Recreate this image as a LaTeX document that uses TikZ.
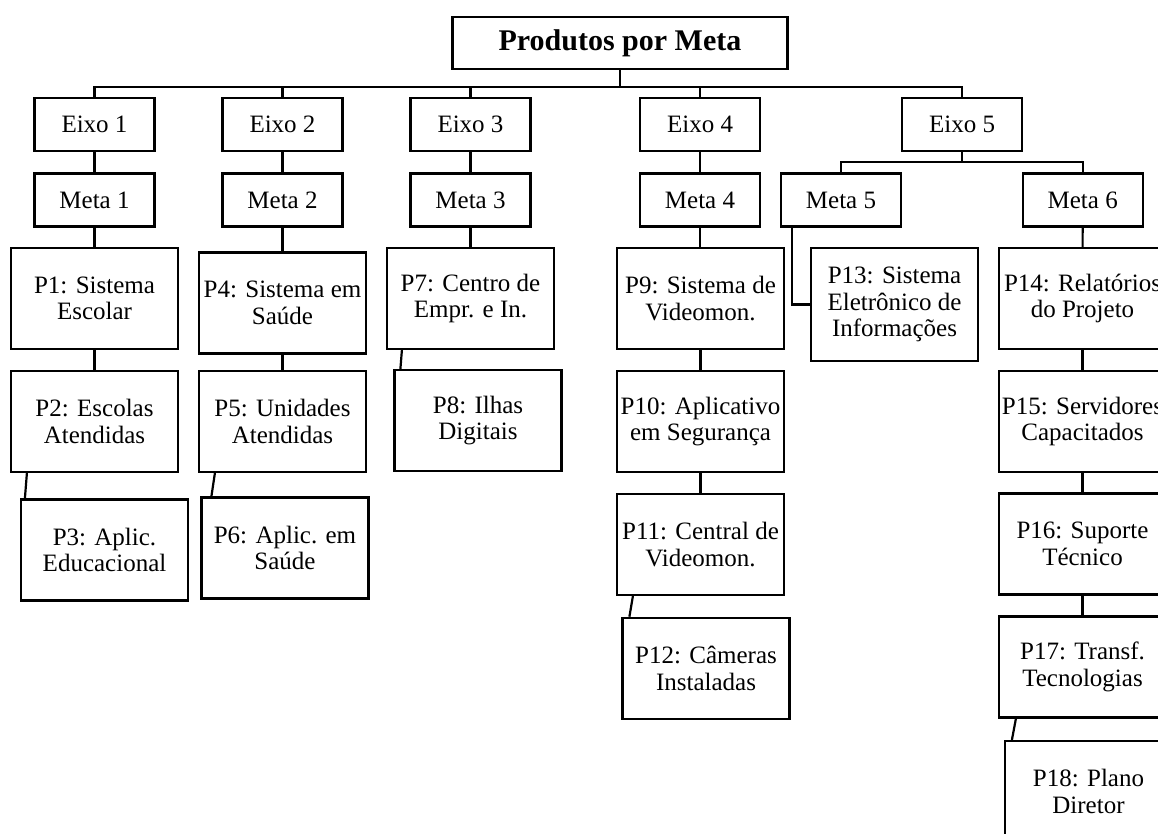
\documentclass[tikz,border=0pt]{standalone}
\usepackage{fontspec}
\setmainfont{Liberation Serif}
\begin{document}
\begin{tikzpicture}[x=1pt,y=-1pt,
  box/.style={draw, line width=2.2pt, inner sep=0pt, align=center, font=\fontsize{25}{26.5}\selectfont},
  titlebox/.style={box, minimum width=335pt, minimum height=52pt, font=\fontsize{30}{32}\selectfont\bfseries},
  smallbox/.style={box, minimum width=120pt, minimum height=53pt},
  prodbox/.style={box, minimum width=167pt, minimum height=101pt},
  conn/.style={line width=2.2pt}]
\clip (0,0) rectangle (1158,834);
\fill[white] (0,0) rectangle (1158,834);
% title
\node[titlebox] (t) at (620,43.3) {Produtos por Meta};
% eixos
\node[smallbox] (e1) at (94.5,124.5) {Eixo 1};
\node[smallbox] (e2) at (282.5,124.5) {Eixo 2};
\node[smallbox] (e3) at (470.5,124.5) {Eixo 3};
\node[smallbox] (e4) at (700,124.5) {Eixo 4};
\node[smallbox] (e5) at (962,124.5) {Eixo 5};
% metas
\node[smallbox] (m1) at (94.5,200) {Meta 1};
\node[smallbox] (m2) at (282.5,200) {Meta 2};
\node[smallbox] (m3) at (470.5,200) {Meta 3};
\node[smallbox] (m4) at (700,200) {Meta 4};
\node[smallbox] (m5) at (841,200) {Meta 5};
\node[smallbox] (m6) at (1082.7,200) {Meta 6};
% produtos
\node[prodbox] (p1) at (94.5,298.5) {P1: Sistema\\Escolar};
\node[prodbox] (p2) at (94.5,421.5) {P2: Escolas\\Atendidas};
\node[prodbox] (p3) at (104.5,550) {P3: Aplic.\\Educacional};
\node[prodbox] (p4) at (282.5,303) {P4: Sistema em\\Saúde};
\node[prodbox] (p5) at (282.5,421.5) {P5: Unidades\\Atendidas};
\node[prodbox] (p6) at (285,548) {P6: Aplic. em\\Saúde};
\node[prodbox] (p7) at (470.5,298.5) {P7: Centro de\\Empr. e In.};
\node[prodbox] (p8) at (478,420.5) {P8: Ilhas\\Digitais};
\node[prodbox] (p9) at (700.5,298.5) {P9: Sistema de\\Videomon.};
\node[prodbox] (p10) at (700.5,421.5) {P10: Aplicativo\\em Segurança};
\node[prodbox] (p11) at (700.5,544.5) {P11: Central de\\Videomon.};
\node[prodbox] (p12) at (706,668.3) {P12: Câmeras\\Instaladas};
\node[prodbox, minimum height=113pt] (p13) at (894.5,304.5) {P13: Sistema\\Eletrônico de\\Informações};
\node[prodbox] (p14) at (1082.5,298.5) {P14: Relatórios\\do Projeto};
\node[prodbox] (p15) at (1082.5,421.5) {P15: Servidores\\Capacitados};
\node[prodbox] (p16) at (1082.5,544) {P16: Suporte\\Técnico};
\node[prodbox] (p17) at (1082.5,667) {P17: Transf.\\Tecnologias};
\node[prodbox] (p18) at (1088.5,791.5) {P18: Plano\\Diretor};
% connectors top level
\coordinate (bar) at (620,87);
\draw[conn] (t.south) -- (bar);
\draw[conn] (e1.north) |- (bar) -| (e5.north);
\draw[conn] (e2.north) -- (e2.north |- bar);
\draw[conn] (e3.north) -- (e3.north |- bar);
\draw[conn] (e4.north) -- (e4.north |- bar);
% eixo to meta
\draw[conn] (e1) -- (m1);
\draw[conn] (e2) -- (m2);
\draw[conn] (e3) -- (m3);
\draw[conn] (e4) -- (m4);
\coordinate (bar5) at (962,162);
\draw[conn] (e5.south) -- (bar5);
\draw[conn] (m5.north) |- (bar5) -| (m6.north);
% meta to products
\draw[conn] (m1) -- (p1);
\draw[conn] (m2) -- (p4);
\draw[conn] (m3) -- (p7);
\draw[conn] (m4.south) -- (m4.south |- p9.north);
\draw[conn] (m6) -- (p14);
\draw[conn] ([xshift=12pt]m5.south west) |- (p13.west);
% product chains
\draw[conn] (p1) -- (p2);
\draw[conn] ([xshift=17pt]p2.south west) -- ([xshift=5pt]p3.north west);
\draw[conn] (p4) -- (p5);
\draw[conn] ([xshift=17pt]p5.south west) -- ([xshift=11pt]p6.north west);
\draw[conn] ([xshift=16pt]p7.south west) -- ([xshift=7pt]p8.north west);
\draw[conn] (p9) -- (p10);
\draw[conn] (p10) -- (p11);
\draw[conn] ([xshift=17pt]p11.south west) -- ([xshift=8pt]p12.north west);
\draw[conn] (p14) -- (p15);
\draw[conn] (p15) -- (p16);
\draw[conn] (p16) -- (p17);
\draw[conn] ([xshift=18pt]p17.south west) -- ([xshift=8pt]p18.north west);
\end{tikzpicture}
\end{document}
